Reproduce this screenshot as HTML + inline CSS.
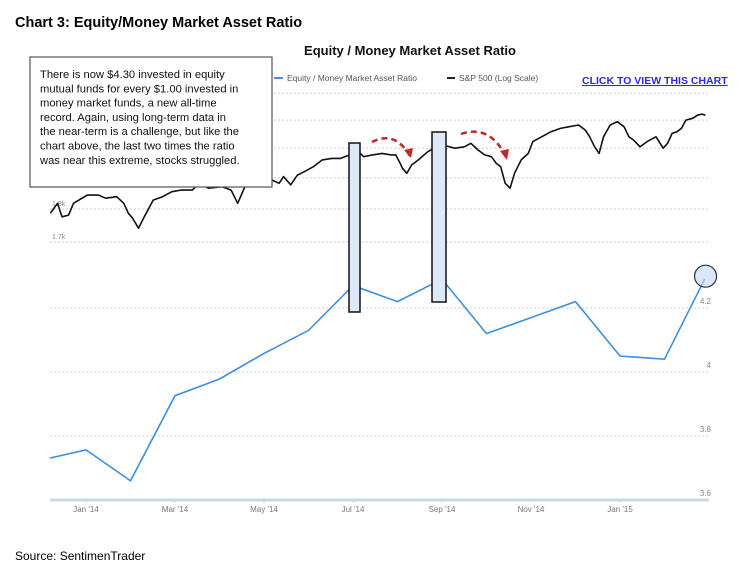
<!DOCTYPE html>
<html><head><meta charset="utf-8">
<style>
body{margin:0;background:#fff;width:750px;height:577px;overflow:hidden;font-family:"Liberation Sans",sans-serif;}
</style></head>
<body>
<svg id="c" width="750" height="577" xmlns="http://www.w3.org/2000/svg">
<text x="15" y="27" font-size="14.5" font-weight="bold" fill="#000">Chart 3:  Equity/Money Market Asset Ratio</text>
<text x="410" y="55" font-size="13" font-weight="bold" text-anchor="middle" fill="#111">Equity / Money Market Asset Ratio</text>
<g>
<line x1="274" y1="78" x2="283" y2="78" stroke="#4a90e2" stroke-width="2"/>
<text x="287" y="81" font-size="8.5" fill="#555">Equity / Money Market Asset Ratio</text>
<line x1="447" y1="78" x2="455" y2="78" stroke="#222" stroke-width="2"/>
<text x="459" y="81" font-size="8.5" fill="#555">S&amp;P 500 (Log Scale)</text>
</g>
<text x="582" y="84" font-size="10.5" font-weight="bold" fill="#2a2ae0" text-decoration="underline">CLICK TO VIEW THIS CHART</text>
<g id="grid"></g>
<g id="series"></g>
<g id="xticks"></g>
<g id="ann"></g>
<text x="15" y="560" font-size="12" fill="#000">Source:  SentimenTrader</text>
</svg>
<script>
const ratioMonths=[-1,0,1,2,3,4,5,6,7,8,9,10,11,12,13,13.9];
const ratioValues=[3.725,3.757,3.66,3.926,3.978,4.058,4.13,4.27,4.22,4.29,4.12,4.17,4.22,4.05,4.04,4.29];
const ratioTicks=[3.6,3.8,4,4.2];
const ratioTickLabels=["3.6","3.8","4","4.2"];
const spTicks=[1700,1800,1900,2000,2100,2200];
const spTickLabels=["1.7k","1.8k","","","",""];
const xTickMonths=[0,2,4,6,8,10,12];
const xTickLabels=["Jan '14","Mar '14","May '14","Jul '14","Sep '14","Nov '14","Jan '15"];
const spMonths=[-0.80,-0.64,-0.54,-0.39,-0.28,0.03,0.28,0.44,0.69,0.85,0.95,1.05,1.18,1.31,1.51,1.72,1.93,2.13,2.39,2.54,2.75,3.06,3.26,3.41,3.57,3.77,4.08,4.18,4.34,4.44,4.60,4.75,4.90,5.11,5.31,5.52,5.72,5.93,6.08,6.24,6.44,6.65,6.86,6.96,7.06,7.11,7.21,7.32,7.47,7.68,7.88,8.09,8.29,8.50,8.65,8.81,8.96,9.11,9.22,9.32,9.42,9.53,9.63,9.78,9.94,10.04,10.24,10.45,10.66,10.86,11.07,11.22,11.32,11.43,11.53,11.63,11.78,11.94,12.09,12.20,12.30,12.45,12.61,12.81,12.97,13.07,13.17,13.28,13.38,13.48,13.64,13.74,13.84,13.92];
const spValues=[1787,1818,1776,1781,1818,1844,1844,1834,1839,1818,1787,1771,1741,1776,1828,1839,1855,1860,1860,1882,1866,1871,1860,1818,1871,1882,1877,1893,1882,1904,1877,1909,1920,1937,1960,1965,1965,1977,1994,1971,1977,1982,1977,1977,1948,1932,1915,1943,1960,1988,2005,2008,2000,2005,2017,1994,1977,1971,1948,1937,1882,1866,1915,1960,1982,2023,2040,2058,2070,2076,2082,2064,2040,2005,1982,2040,2082,2094,2076,2040,2029,2005,2023,2040,2000,2017,2052,2058,2070,2100,2107,2118,2122,2118];

const NS="http://www.w3.org/2000/svg";
const X0=50,X1=713;
function x(m){return 86+44.5*m;}
function yR(v){return 372-(v-4)*320;}
function yS(v){return 242-Math.log(v/1700)*577;}
function mk(tag,attrs,parent){const e=document.createElementNS(NS,tag);for(const k in attrs)e.setAttribute(k,attrs[k]);parent.appendChild(e);return e;}
const grid=document.getElementById('grid'),series=document.getElementById('series'),xt=document.getElementById('xticks'),ann=document.getElementById('ann');
ratioTicks.forEach((t,i)=>{
  const yy=yR(t);
  const l=mk('line',{x1:X0,x2:X1-4,y1:yy,y2:yy,stroke:i===0?'#c8d8ea':'#cfcfcf','stroke-width':i===0?3:1,'stroke-dasharray':i===0?'':'2,2'},grid);
  
  
  const tx=mk('text',{x:711,y:yy-4,'font-size':8,fill:'#888','text-anchor':'end'},grid);
  tx.textContent=ratioTickLabels[i];
  
  
});
spTicks.forEach((t,i)=>{
  const yy=yS(t);
  const l=mk('line',{x1:X0,x2:X1-4,y1:yy,y2:yy,stroke:'#cfcfcf','stroke-width':1,'stroke-dasharray':'2,2'},grid);
  
  
  if(spTickLabels[i]){
    const tx=mk('text',{x:52,y:yy-3,'font-size':7,fill:'#888'},grid);
    tx.textContent=spTickLabels[i];
    
    
  }
});
xTickMonths.forEach((m,i)=>{
  const tx=mk('text',{x:x(m),y:512,'font-size':8,fill:'#777','text-anchor':'middle'},xt);
  tx.textContent=xTickLabels[i];
  
  
  const tk=mk('line',{x1:x(m),x2:x(m),y1:499,y2:503,stroke:'#c8d8ea'},xt);
  
  
});
// clip
const defs=mk('defs',{},series);
const cp=mk('clipPath',{id:'pc'},defs);
mk('rect',{x:X0,y:80,width:X1-X0,height:430},cp);
const sp=mk('polyline',{points:spMonths.map((m,i)=>x(m).toFixed(1)+','+yS(spValues[i]).toFixed(1)).join(' '),fill:'none',stroke:'#111','stroke-width':1.6,'stroke-linejoin':'round','clip-path':'url(#pc)'},series);


const rl=mk('polyline',{points:ratioMonths.map((m,i)=>x(m).toFixed(1)+','+yR(ratioValues[i]).toFixed(1)).join(' '),fill:'none',stroke:'#3d8fe0','stroke-width':1.6,'clip-path':'url(#pc)'},series);


// annotations
function annEl(tag,attrs,name){const e=mk(tag,attrs,ann);return e;}
annEl('rect',{x:349,y:143,width:11,height:169,fill:'#dde9f7',stroke:'#111','stroke-width':1.5},'highlight-box-jul');
annEl('rect',{x:432,y:132,width:14,height:170,fill:'#dde9f7',stroke:'#111','stroke-width':1.5},'highlight-box-sep');
annEl('circle',{cx:x(13.9)+1,cy:yR(4.29)-3,r:11,fill:'rgba(190,215,245,0.6)',stroke:'#333','stroke-width':1.2},'latest-circle');
annEl('path',{d:'M372,142 Q395,130 410,156',fill:'none',stroke:'#c0282a','stroke-width':2.5,'stroke-dasharray':'6,4'},'red-arrow-1');
annEl('path',{d:'M404,150 L411,158 L413,148 Z',fill:'#c0282a'},'red-arrow-1-head');
annEl('path',{d:'M461,134 Q490,124 506,157',fill:'none',stroke:'#c0282a','stroke-width':2.5,'stroke-dasharray':'6,4'},'red-arrow-2');
annEl('path',{d:'M500,151 L507,160 L509,149 Z',fill:'#c0282a'},'red-arrow-2-head');
annEl('rect',{x:30,y:57,width:242,height:130,fill:'#fff',stroke:'#555','stroke-width':1.2},'callout-box');
const lines=["There is now $4.30 invested in equity","mutual funds for every $1.00 invested in","money market funds, a new all-time","record.  Again, using long-term data in","the near-term is a challenge, but like the","chart above, the last two times the ratio","was near this extreme, stocks struggled."];
const t=annEl('text',{x:40,y:78,'font-size':11.2,fill:'#111'},'callout-text');
lines.forEach((s,i)=>{const ts=mk('tspan',{x:40,dy:i?14.3:0},t);ts.textContent=s;});
</script>
</body></html>
